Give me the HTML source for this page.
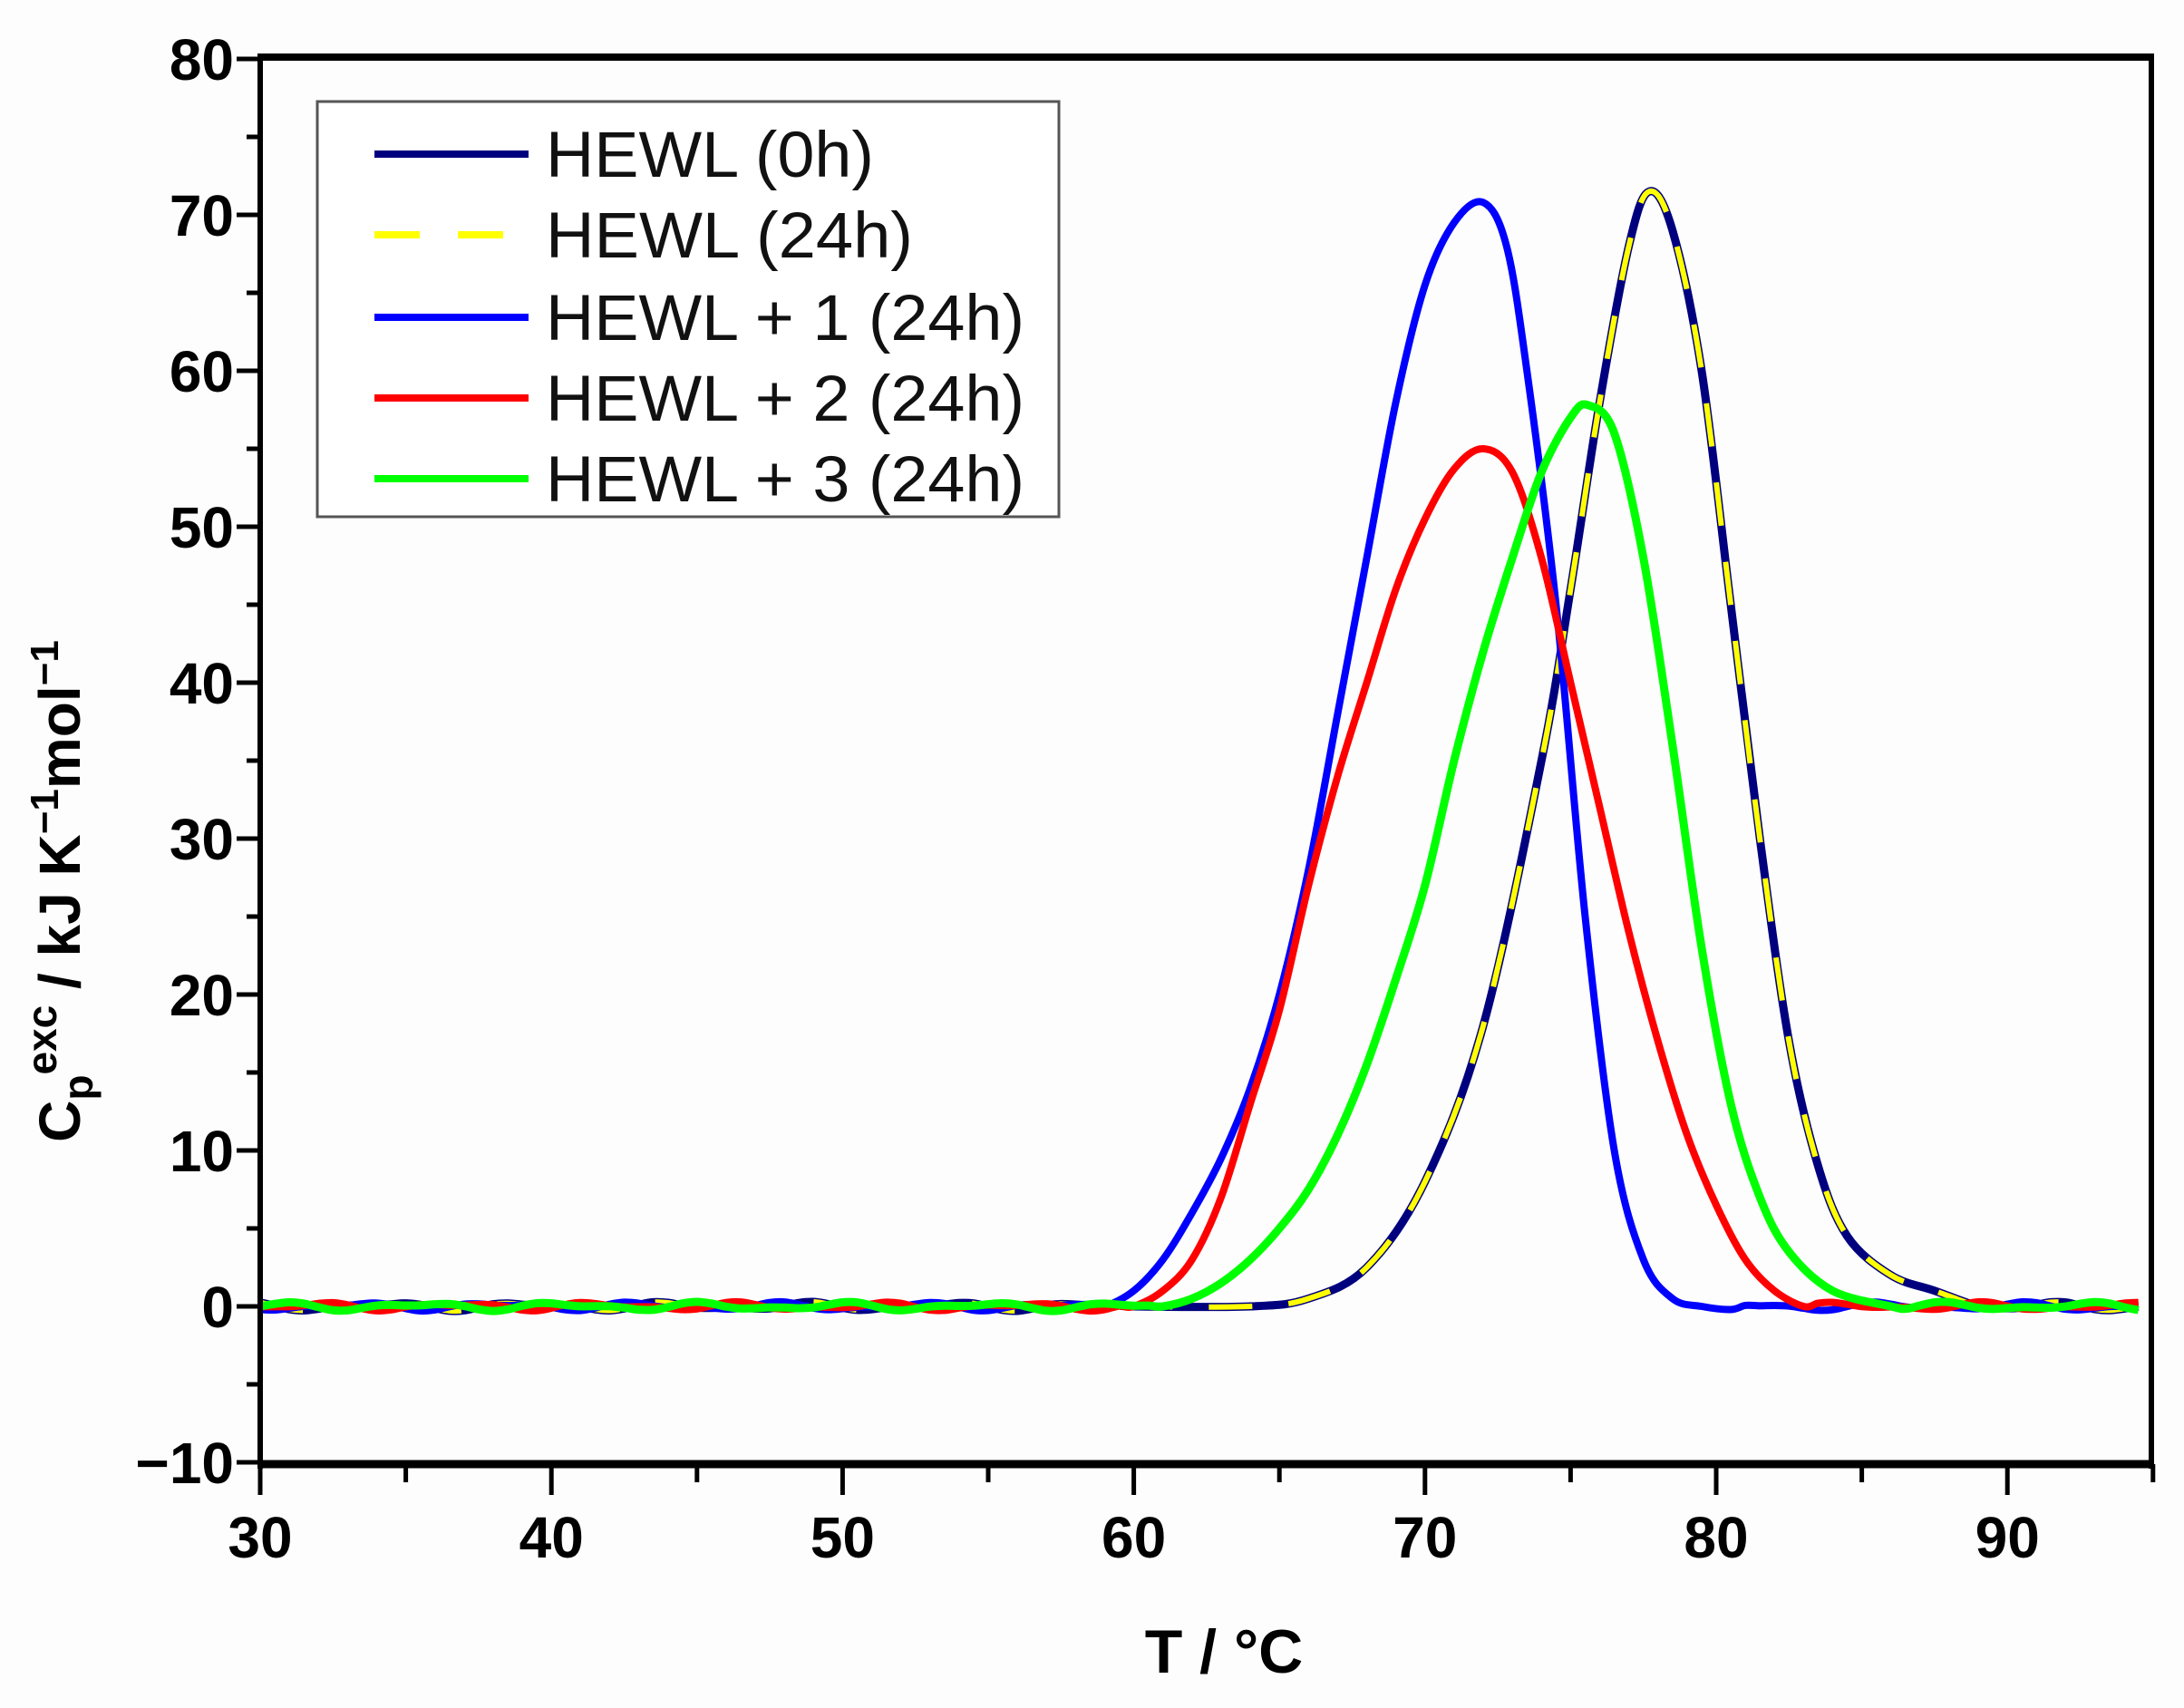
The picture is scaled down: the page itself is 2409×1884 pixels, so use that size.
<!DOCTYPE html>
<html><head><meta charset="utf-8"><style>
html,body{margin:0;padding:0;background:#fff}
svg{display:block}
text{font-family:"Liberation Sans",Arial,sans-serif}
</style></head><body>
<svg id="s" width="2409" height="1884" viewBox="0 0 2409 1884" xmlns="http://www.w3.org/2000/svg">
<rect width="2409" height="1884" fill="#fdfdfd"/>
<g id="curves"></g>
<g stroke="#000" fill="none">
<line x1="287" y1="63" x2="2376" y2="63" stroke-width="8"/>
<line x1="287" y1="1615" x2="2376" y2="1615" stroke-width="9"/>
<line x1="287" y1="59" x2="287" y2="1620" stroke-width="6"/>
<line x1="2373" y1="59" x2="2373" y2="1620" stroke-width="6"/>
</g>
<g id="ticks" stroke="#000" stroke-width="5"></g>
<g id="labels" font-weight="bold" font-size="64" fill="#000"></g>
<rect x="350" y="112" width="818" height="458" fill="#fff" stroke="#555" stroke-width="3"/>
<g stroke-width="8" stroke-linecap="butt">
<line x1="413" y1="170" x2="583" y2="170" stroke="#00007f"/>
<line x1="413" y1="259" x2="463" y2="259" stroke="#ffff00"/>
<line x1="505" y1="259" x2="555" y2="259" stroke="#ffff00"/>
<line x1="413" y1="350" x2="583" y2="350" stroke="#0000ff"/>
<line x1="413" y1="439" x2="583" y2="439" stroke="#ff0000"/>
<line x1="413" y1="528" x2="583" y2="528" stroke="#00ff00"/>
</g>
<g font-size="71" fill="#111">
<text x="602" y="195" textLength="362" lengthAdjust="spacingAndGlyphs">HEWL (0h)</text>
<text x="602" y="284" textLength="405" lengthAdjust="spacingAndGlyphs">HEWL (24h)</text>
<text x="602" y="375" textLength="528" lengthAdjust="spacingAndGlyphs">HEWL + 1 (24h)</text>
<text x="602" y="464" textLength="528" lengthAdjust="spacingAndGlyphs">HEWL + 2 (24h)</text>
<text x="602" y="553" textLength="528" lengthAdjust="spacingAndGlyphs">HEWL + 3 (24h)</text>
</g>
<text x="1350" y="1845" font-size="68" font-weight="bold" text-anchor="middle">T / °C</text>
<text transform="translate(88,983) rotate(-90)" font-size="64" font-weight="bold" text-anchor="middle">C<tspan font-size="46" dy="14">p</tspan><tspan font-size="46" dy="-40">exc</tspan><tspan dy="26"> / kJ K</tspan><tspan font-size="44" dy="-24">−1</tspan><tspan dy="24">mol</tspan><tspan font-size="44" dy="-24">−1</tspan></text>
</svg>
<script>
var X=function(t){return 287+(t-30)*32.12}, Y=function(v){return 1441-v*17.2};
var NS="http://www.w3.org/2000/svg";
function el(p,n,a){var e=document.createElementNS(NS,n);for(var k in a)e.setAttribute(k,a[k]);p.appendChild(e);return e;}
var tk=document.getElementById('ticks'),lb=document.getElementById('labels');
for(var v=-10;v<=80;v+=5){var y=Y(v),L=(v%10==0)?26:15;el(tk,'line',{x1:287-L,y1:y,x2:287,y2:y});
 if(v%10==0){var t=el(lb,'text',{x:258,y:y+23,'text-anchor':'end'});t.textContent=(v<0?'−10':v);}}
for(var T=30;T<=95;T+=5){var x=X(T),L=(T%10==0)?34:20;el(tk,'line',{x1:x,y1:1615,x2:x,y2:1615+L});
 if(T%10==0&&T<=90){var t=el(lb,'text',{x:x,y:1718,'text-anchor':'middle'});t.textContent=T;}}
function noise(t,s){return 0.18*Math.sin(t*1.3+s)+0.12*Math.sin(t*2.3+2*s)}
function path(pts,seed){
 var all=[];var first=pts[0][0],last=pts[pts.length-1][0];
 for(var t=30;t<first;t+=0.5)all.push([t,noise(t,seed)]);
 all=all.concat(pts);
 for(var t=last+0.5;t<=94.6;t+=0.5)all.push([t,noise(t,seed+1)]);
 var p=all.map(function(q){return [X(q[0]),Y(q[1])]});
 var d='M'+p[0][0]+','+p[0][1];
 for(var i=0;i<p.length-1;i++){var p0=p[Math.max(0,i-1)],p1=p[i],p2=p[i+1],p3=p[Math.min(p.length-1,i+2)];
  d+=' C'+(p1[0]+(p2[0]-p0[0])/6)+','+(p1[1]+(p2[1]-p0[1])/6)+' '+(p2[0]-(p3[0]-p1[0])/6)+','+(p2[1]-(p3[1]-p1[1])/6)+' '+p2[0]+','+p2[1];}
 return d;}
var navy=[[60,0],[64,0],[66,0.5],[68,2.5],[70,8],[72,18],[74,35],[75,46],[76,58],[77,68],[77.7,71.5],[78.5,69],[79.5,60],[80.5,45],[81.5,30],[82.5,17],[83.5,9],[84.5,4.5],[86,2],[87.5,1],[89,0]];
var blue=[[59,0],[60,1],[61,3],[62,6],[63,9.5],[64,14],[65,20],[66,28],[67,38],[68,48],[69,58],[70,65.5],[71,69.5],[72,70.8],[72.8,68],[73.5,60],[74.5,45],[75.5,25],[76.5,10],[77.5,3],[78.5,0.5],[79.5,0],[80.5,-0.2]];
var red=[[60,0],[61,1],[62,3],[63,7],[64,13],[65,19],[66,27],[67,34],[68,40],[69,46],[70,50.5],[71,53.7],[72,55],[73,53.5],[74,48],[75,40],[76,32],[77,24],[78,17],[79,11],[80,6.5],[81,3],[82,1],[83,0]];
var green=[[61,0],[62,0.5],[63,1.5],[64,3],[65,5],[66,7.5],[67,11],[68,15.5],[69,21],[70,27],[71,35],[72,42],[73,48],[74,53.5],[75,57],[75.6,57.8],[76.5,56],[77.5,48],[78.5,36],[79.5,23],[80.5,13],[81.5,7],[82.5,3.5],[84,1],[86,0]];
var g=document.getElementById('curves');
var dn=path(navy,1);
el(g,'path',{d:dn,stroke:'#00007f','stroke-width':9,fill:'none'});
el(g,'path',{d:dn,stroke:'#ffff00','stroke-width':6,fill:'none','stroke-dasharray':'48 40'});
el(g,'path',{d:path(blue,2.3),stroke:'#0000ff','stroke-width':8,fill:'none'});
el(g,'path',{d:path(red,4.1),stroke:'#ff0000','stroke-width':8,fill:'none'});
el(g,'path',{d:path(green,5.7),stroke:'#00ff00','stroke-width':9,fill:'none'});
</script>
</body></html>
